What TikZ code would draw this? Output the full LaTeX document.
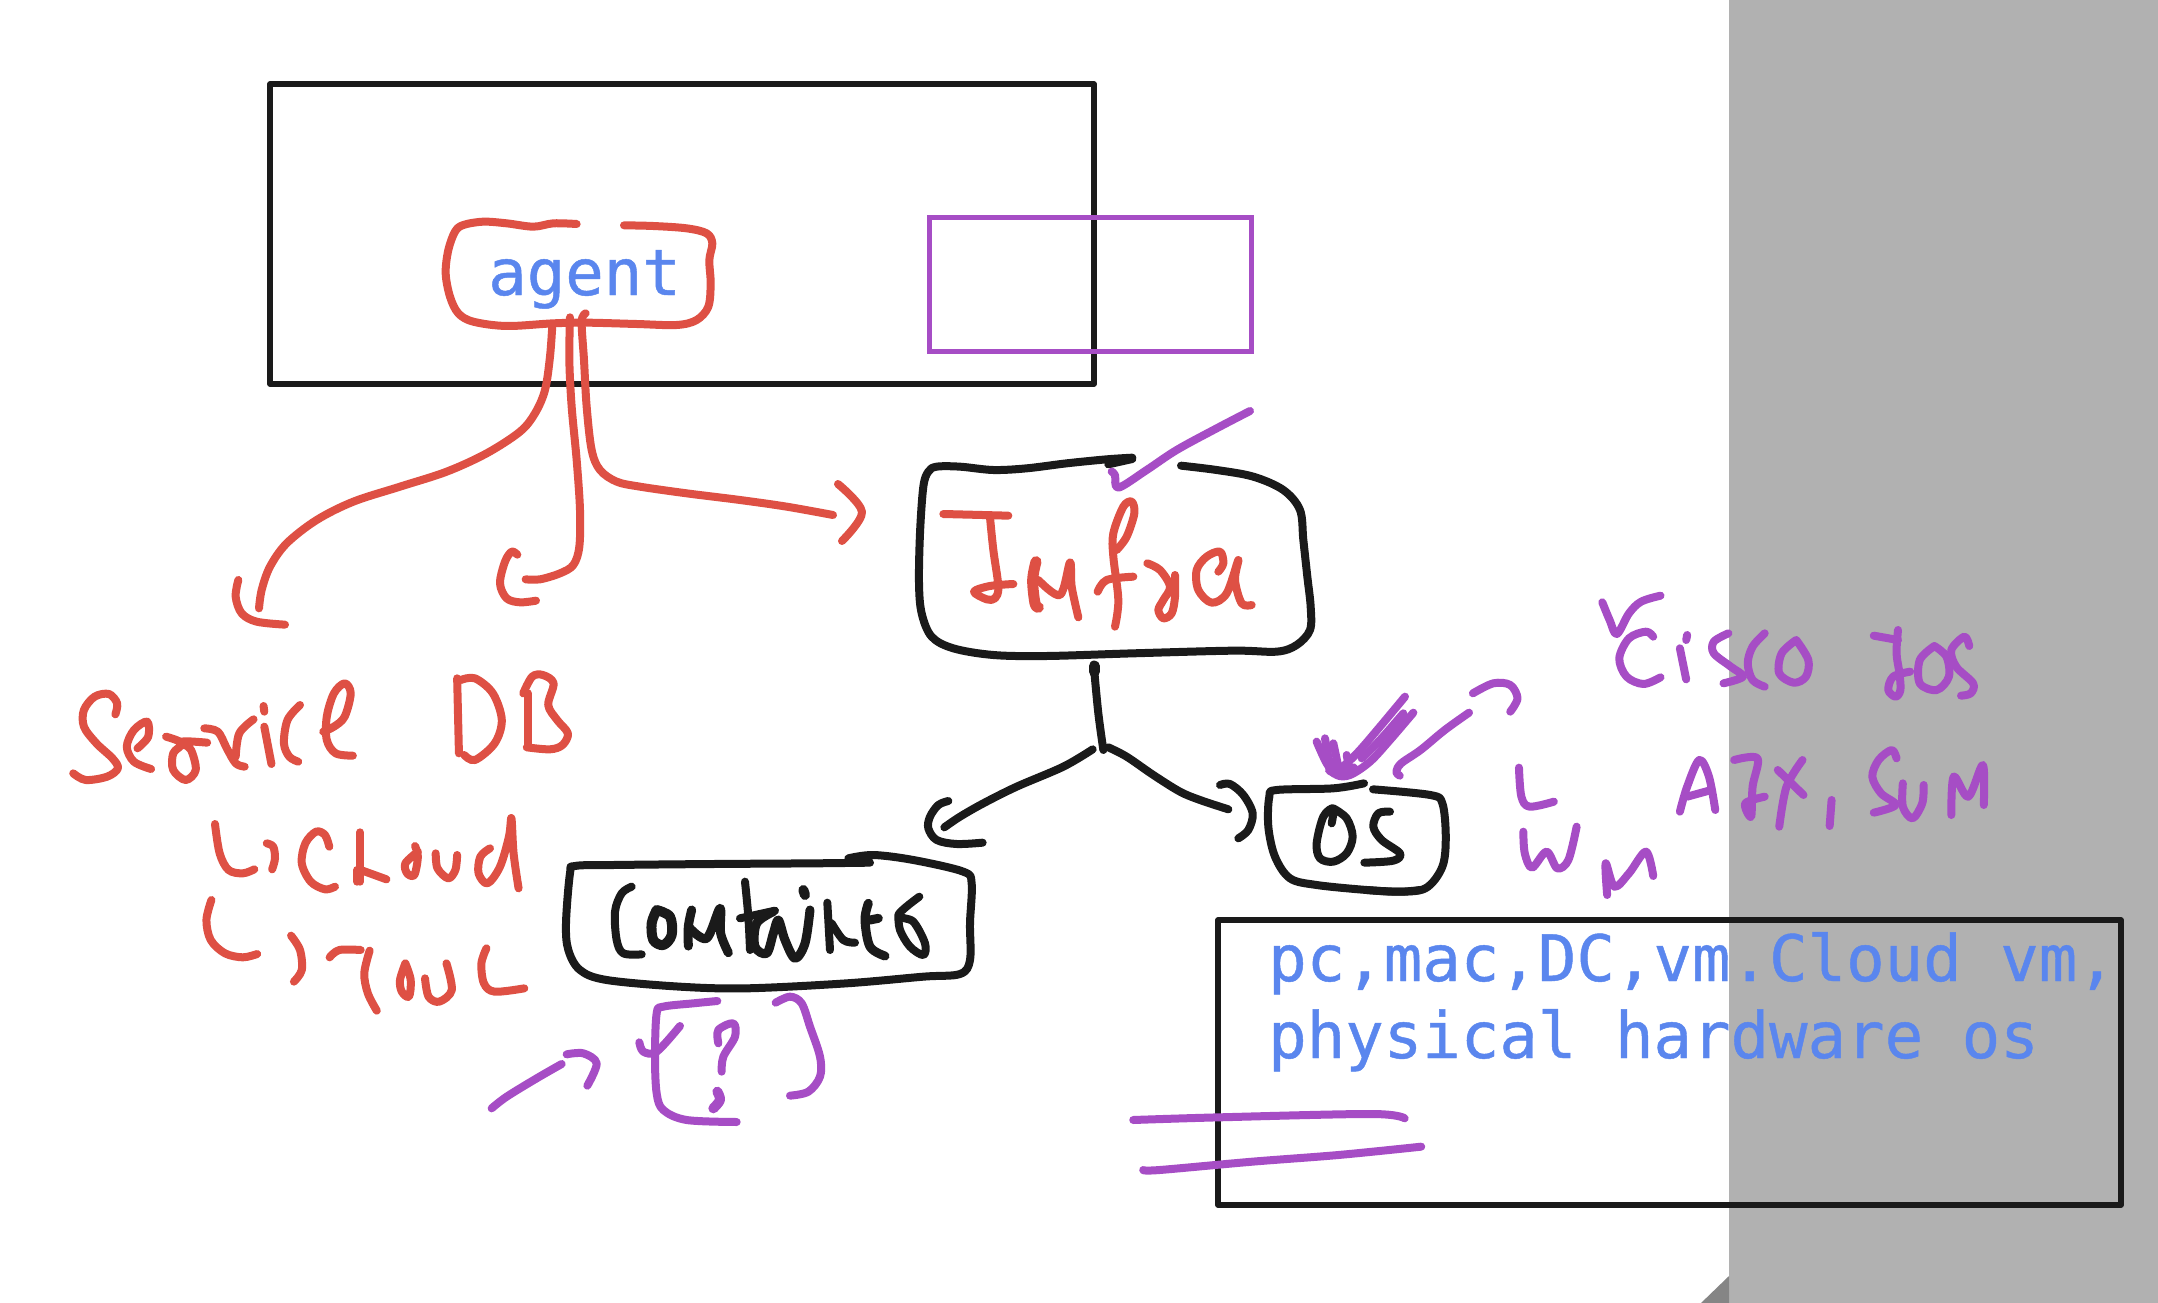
\documentclass[tikz,border=0pt]{standalone}
\usepackage{fontspec}
\newfontfamily\monof[RawFeature={embolden=0.7}]{DejaVu Sans Mono}
\definecolor{inkred}{HTML}{DE5044}
\definecolor{inkblack}{HTML}{1A1A1A}
\definecolor{inkpurple}{HTML}{A64DC5}
\definecolor{labelblue}{HTML}{5A86EE}
\definecolor{panelgrey}{HTML}{B1B1B1}
\definecolor{foldgrey}{HTML}{858585}
\tikzset{
  inkline/.style={line width=8pt,line cap=round,line join=round},
  zoomview/.style n args={4}{shift={(#1,#2)},x=#3,y=#4},
  viewA/.style={zoomview={50}{620}{0.35714pt}{-0.33333pt}},
  viewB/.style={zoomview={900}{400}{0.33333pt}{-0.33333pt}},
  viewC/.style={zoomview={1280}{570}{0.48469pt}{-0.33333pt}},
  viewD/.style={zoomview={480}{840}{0.33333pt}{-0.33333pt}},
  viewE/.style={zoomview={1120}{900}{0.66199pt}{-0.33333pt}},
  viewF/.style={zoomview={220}{200}{0.33333pt}{-0.33333pt}},
  viewG/.style={zoomview={900}{640}{0.33333pt}{-0.33333pt}},
  frame/.style={draw=inkblack,line width=5.5pt,line join=round},
  monolabel/.style={inner sep=0pt,anchor=base west,text=labelblue,font=\monof\fontsize{64}{70}\selectfont},
}
\newcommand\ink[2][]{\draw[inkline,#1] plot[smooth,tension=.55] coordinates {#2};}
\begin{document}
\begin{tikzpicture}[x=1pt,y=-1pt]
\useasboundingbox (0,0) rectangle (2158,1303);
\fill[white] (0,0) rectangle (2158,1304);
\fill[panelgrey] (1729,0) rectangle (2158,1304);
\fill[foldgrey] (1700,1304) -- (1729,1276) -- (1729,1304) -- cycle;
% typed frames and labels
\draw[frame] (270,84) rectangle (1094,384);
\draw[draw=inkpurple,line width=5pt] (929,217) rectangle (1251,351);
\draw[frame] (1218,920) rectangle (2121,1205);
\node[monolabel] (agentlabel) at (488,295) {agent};
\node[monolabel] (osline) at (1268,981) {pc,mac,DC,vm.Cloud vm,};
\node[monolabel] (hwline) at (1268,1058) {physical hardware os};
% agent box and its three connectors
\begin{scope}[viewF,inkred]
\ink{(1070,72)(1000,70)(940,80)(860,70)(790,65)(730,75)(705,95)(685,150)(677,220)(690,290)(715,340)(760,365)(860,378)(1000,370)(1100,368)(1250,372)(1370,375)(1430,360)(1465,320)(1472,250)(1468,180)(1477,130)(1460,100)(1400,85)(1300,78)(1212,76)}
\ink{(997,375)(990,470)(975,570)(945,640)(900,695)(800,760)(680,815)(540,860)(400,905)(290,960)(200,1030)(150,1100)(125,1170)(117,1225)}
\ink{(55,1140)(47,1190)(65,1240)(110,1265)(195,1274)}
\ink{(1050,352)(1048,480)(1055,620)(1070,780)(1080,930)(1078,1040)(1060,1095)(1020,1120)(960,1138)(917,1138)}
\ink{(892,1064)(875,1055)(855,1085)(840,1150)(860,1195)(900,1207)(948,1202)}
\ink{(1097,340)(1085,365)(1092,480)(1100,620)(1115,750)(1140,810)(1190,845)(1260,860)(1400,880)(1560,900)(1700,920)(1839,945)}
\ink{(1854,852)(1926,936)(1866,1023)}
\end{scope}
% Infra
\begin{scope}[viewB]
\ink[inkblack]{(697,173)(620,178)(500,190)(380,205)(280,210)(180,200)(110,200)(85,215)(70,260)(60,400)(57,550)(65,640)(95,710)(160,745)(280,765)(440,768)(700,760)(1000,752)(1130,755)(1190,735)(1230,690)(1232,620)(1222,530)(1210,420)(1200,330)(1150,270)(1060,230)(950,210)(843,197)}
\ink[inkblack]{(625,193)(697,177)}
\ink[inkpurple]{(1050,33)(950,85)(830,150)(740,210)(655,263)(645,225)(635,215)}
\begin{scope}[inkred]
\ink{(130,342)(325,347)}
\ink{(270,352)(280,450)(295,560)(285,595)(260,598)(222,575)(270,558)(340,552)}
\ink[line width=11pt]{(408,485)(398,540)(405,610)(415,622)}
\ink{(415,540)(480,585)(510,487)(515,560)(535,652)}
\ink{(645,680)(655,600)(640,470)(640,400)(670,320)(695,305)(703,340)(680,410)(650,450)}
\ink{(593,575)(620,540)(700,530)}
\ink{(742,490)(780,510)(810,560)(790,600)(775,630)(790,655)(815,640)(825,590)(825,525)}
\ink{(955,515)(970,490)(960,455)(920,470)(890,510)(895,570)(935,608)(980,580)(1015,480)(1005,540)(1025,610)(1055,615)}
\end{scope}
\end{scope}
% tree below Infra and OS box
\begin{scope}[viewG]
\begin{scope}[inkblack]
\ink[line width=11pt]{(583,78)(583,95)}
\ink{(583,95)(595,220)(610,330)}
\ink{(578,328)(490,380)(350,440)(250,490)(180,530)(133,562)}
\ink{(145,483)(115,495)(90,530)(85,565)(110,600)(170,612)(248,608)}
\ink{(625,322)(680,350)(760,405)(840,455)(900,480)(985,508)}
\ink{(960,435)(990,432)(1030,465)(1058,520)(1045,570)(1015,595)}
\ink{(1392,430)(1300,445)(1130,450)(1108,470)(1105,560)(1125,650)(1170,715)(1250,735)(1400,750)(1500,755)(1560,750)}
\ink{(1295,550)(1300,505)(1270,530)(1250,610)(1260,655)(1300,665)(1340,640)(1358,590)(1340,535)(1300,505)}
\ink{(1470,515)(1435,520)(1420,560)(1445,600)(1500,640)(1480,662)(1393,668)}
\end{scope}
\begin{scope}[inkpurple]
\ink{(1515,170)(1440,260)(1380,330)(1340,370)(1300,400)}
\ink{(1540,218)(1470,300)(1410,365)(1350,405)(1310,405)(1280,370)(1250,305)}
\ink{(1510,220)(1440,300)(1385,355)}
\ink{(1275,295)(1290,370)(1310,395)}
\ink{(1300,310)(1315,380)}
\ink{(1340,345)(1350,395)}
\ink[line width=10pt]{(1290,390)(1320,400)(1360,385)}
\end{scope}
\end{scope}
% right-hand notes
\begin{scope}[viewC,inkpurple]
\ink[inkblack]{(192,658)(310,675)(335,700)(342,800)(335,890)(300,955)(240,965)(180,960)}
\ink{(390,428)(340,480)(290,540)(250,580)(240,605)(247,617)}
\ink{(398,370)(440,340)(475,345)(490,385)(475,425)}
\ink{(665,97)(680,150)(695,192)(720,130)(745,95)(785,77)}
\ink{(770,200)(755,185)(720,205)(700,265)(715,320)(750,342)(785,322)}
\ink{(840,195)(838,210)}
\ink{(825,235)(838,328)}
\ink{(925,190)(895,215)(895,250)(930,290)(955,320)(915,340)}
\ink{(1000,190)(975,230)(965,280)(975,330)(1000,350)}
\ink{(1065,210)(1035,250)(1030,310)(1060,338)(1085,320)(1090,270)(1065,210)}
\ink{(1225,197)(1275,210)}
\ink{(1275,180)(1272,250)(1278,310)(1280,360)(1270,380)(1255,360)(1265,320)(1300,305)}
\ink{(1350,228)(1320,270)(1320,340)(1355,360)(1380,320)(1375,260)(1350,228)}
\ink{(1422,228)(1412,200)(1385,240)(1395,290)(1430,340)(1425,370)(1405,377)}
\ink{(493,593)(498,680)(515,710)(565,695)}
\ink{(502,785)(505,850)(520,893)(550,845)(572,895)(595,870)(612,770)}
\ink{(675,975)(672,880)(690,950)(720,910)(755,845)(770,918)}
\ink{(825,725)(840,650)(865,570)(885,620)(898,720)}
\ink{(840,680)(890,660)}
\ink{(937,570)(985,565)(975,650)(972,740)(960,700)(1000,680)}
\ink{(1027,600)(1080,675)}
\ink{(1078,570)(1045,650)(1030,770)}
\ink{(1138,690)(1134,768)}
\ink{(1272,565)(1262,540)(1235,570)(1222,620)(1240,670)(1270,705)(1225,728)}
\ink{(1285,640)(1285,710)(1305,745)(1325,700)(1328,645)}
\ink{(1385,735)(1390,620)(1420,680)(1450,585)(1452,705)}
\end{scope}
% Service DB notes
\begin{scope}[viewA,inkred]
\ink{(183,283)(188,250)(165,222)(125,230)(95,270)(95,320)(130,370)(175,415)(190,445)(160,470)(100,480)(65,460)}
\ink{(245,385)(275,350)(272,305)(235,330)(215,380)(235,425)(283,447)}
\ink{(325,350)(370,370)(345,400)(345,450)(380,480)(408,450)(395,390)(370,365)(440,368)}
\ink{(432,325)(470,335)(495,385)(520,430)(545,440)}
\ink{(520,410)(530,340)(570,298)}
\ink{(598,258)(600,275)}
\ink{(600,320)(620,432)}
\ink{(700,255)(665,300)(655,370)(670,410)(695,425)}
\ink{(765,335)(795,320)(825,290)(842,220)(825,190)(795,220)(775,290)(775,360)(800,400)(848,407)}
\ink{(1140,175)(1145,400)}
\ink{(1150,180)(1190,175)(1240,220)(1265,300)(1245,370)(1190,420)(1160,405)}
\ink{(1325,220)(1350,170)(1380,165)(1410,190)(1395,255)(1420,300)(1450,340)(1435,375)(1400,388)(1335,382)}
\ink{(1338,220)(1338,380)}
\ink{(462,612)(475,700)(500,750)(540,760)(572,748)}
\ink{(607,670)(625,680)(630,715)(622,748)}
\ink{(782,680)(770,645)(745,635)(715,670)(705,730)(730,785)(770,808)(798,800)}
\ink{(868,637)(868,785)}
\ink{(860,750)(860,785)}
\ink{(870,750)(942,778)}
\ink{(1022,678)(1030,710)(1020,765)(1000,760)(995,730)(1030,695)}
\ink{(1080,700)(1085,745)(1115,775)(1135,750)(1140,705)}
\ink{(1232,685)(1205,710)(1200,760)(1225,790)(1260,740)(1285,650)(1292,595)(1298,700)(1312,805)}
\ink{(452,840)(438,900)(450,960)(490,1000)(540,1012)(580,1002)}
\ink{(675,947)(700,990)(705,1050)(683,1085)}
\ink{(783,1012)(810,990)(870,990)}
\ink{(895,992)(880,1060)(890,1120)(915,1172)}
\ink{(995,1030)(980,1080)(985,1115)(1005,1130)(1010,1080)(995,1030)}
\ink{(1050,1075)(1060,1130)(1090,1145)(1125,1110)(1110,1030)}
\ink{(1222,985)(1208,1030)(1215,1090)(1245,1115)(1328,1105)}
\end{scope}
% Containers
\begin{scope}[viewD]
\begin{scope}[inkblack]
\ink{(1170,68)(1000,70)(700,72)(400,75)(285,78)(270,100)(258,250)(265,330)(300,390)(380,420)(600,440)(800,445)(1100,430)(1330,410)(1440,402)(1470,360)(1470,250)(1475,130)(1450,95)(1300,60)(1180,45)(1105,55)}
\ink{(455,140)(425,160)(405,215)(410,300)(430,340)(485,343)}
\ink[line width=10pt]{(530,210)(515,250)(520,300)(550,315)(575,285)(570,230)(530,210)}
\ink[line width=9pt]{(635,210)(625,260)(625,318)}
\ink[line width=9pt]{(630,265)(680,295)(720,205)(722,280)(745,338)}
\ink{(795,125)(805,230)(810,330)}
\ink{(780,235)(885,212)}
\ink[line width=9pt]{(880,215)(830,250)(825,320)(860,340)(880,280)(895,240)(915,300)(945,355)(975,310)(990,210)}
\ink[line width=10pt]{(970,150)(975,165)}
\ink{(1042,188)(1050,330)}
\ink{(1055,250)(1090,300)(1125,308)}
\ink[line width=9pt]{(1165,190)(1155,240)(1170,320)(1215,348)}
\ink[line width=9pt]{(1170,240)(1195,235)}
\ink{(1318,170)(1255,225)(1300,245)(1335,310)(1330,345)(1290,320)(1260,270)(1255,225)}
\end{scope}
\begin{scope}[inkpurple]
\ink{(712,483)(640,490)(550,500)(530,520)(525,650)(530,760)(550,810)(620,840)(770,846)}
\ink{(478,607)(490,635)(530,635)(600,558)}
\ink{(715,610)(715,570)(760,550)(765,590)(730,650)(725,695)}
\ink[line width=10pt]{(712,755)(720,780)(700,805)}
\ink{(887,488)(930,470)(965,490)(990,560)(1020,650)(1020,710)(985,755)(930,767)}
\ink{(35,805)(80,770)(170,715)(245,672)}
\ink{(260,643)(310,640)(350,670)(322,737)}
\end{scope}
\end{scope}
% underlines
\begin{scope}[viewE,inkpurple]
\ink{(20,660)(150,652)(380,642)(430,655)}
\ink{(35,810)(60,810)(200,785)(330,765)(455,740)}
\end{scope}
\end{tikzpicture}
\end{document}
